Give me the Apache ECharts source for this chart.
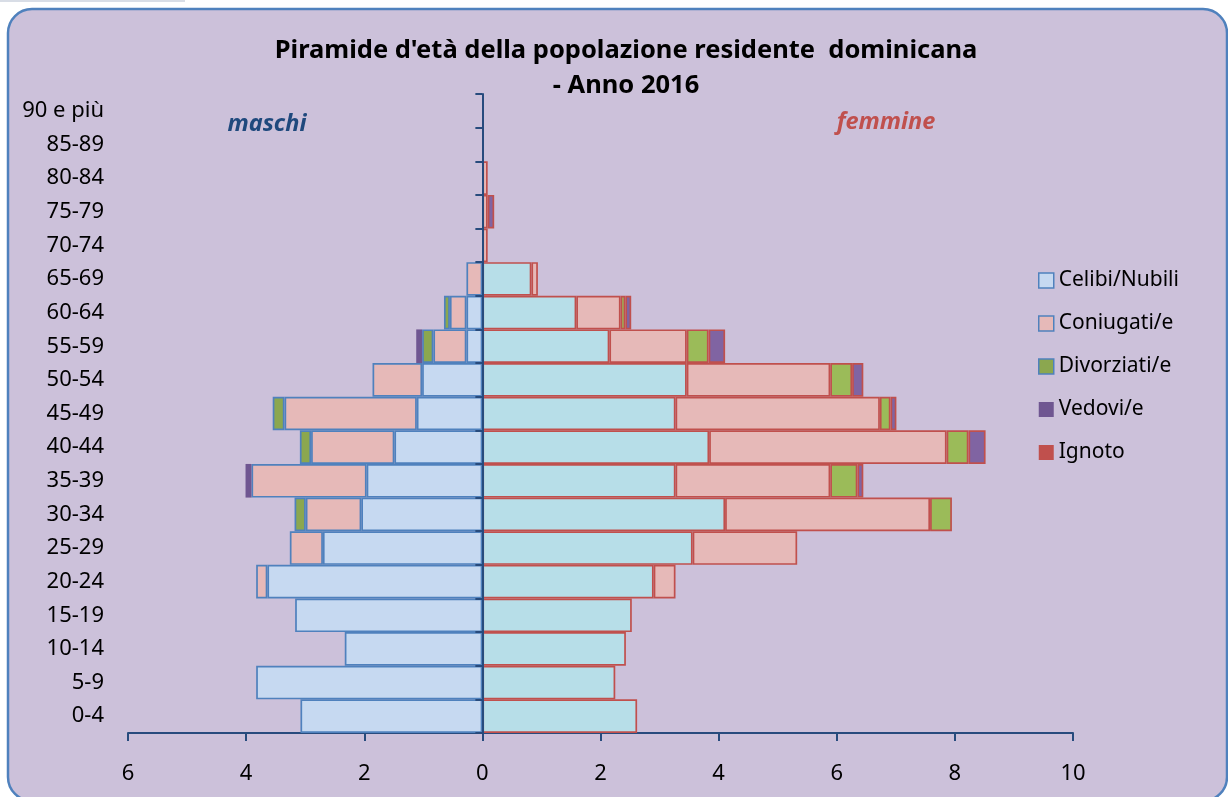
<!DOCTYPE html>
<html>
<head>
<meta charset="utf-8">
<title>Piramide d'età</title>
<script src="https://cdn.jsdelivr.net/npm/echarts@6/dist/echarts.min.js"></script>
<style>
  html, body { margin: 0; padding: 0; background: #ffffff; }
  #chart { width: 1228px; height: 797px; }
</style>
</head>
<body>
<div id="chart"></div>
<script>
// Age classes, bottom to top
const ageGroups = ['0-4', '5-9', '10-14', '15-19', '20-24', '25-29', '30-34', '35-39', '40-44',
  '45-49', '50-54', '55-59', '60-64', '65-69', '70-74', '75-79', '80-84', '85-89', '90 e più'];

// Males (percent of residents), drawn to the left
const maschiCelibi     = [3.08, 3.83, 2.33, 3.17, 3.64, 2.70, 2.05, 1.96, 1.49, 1.11, 1.02, 0.27, 0.27, 0, 0, 0, 0, 0, 0];
const maschiConiugati  = [0, 0, 0, 0, 0.19, 0.56, 0.94, 1.95, 1.41, 2.24, 0.84, 0.56, 0.28, 0.27, 0, 0, 0, 0, 0];
const maschiDivorziati = [0, 0, 0, 0, 0, 0, 0.19, 0, 0.19, 0.20, 0, 0.19, 0.10, 0, 0, 0, 0, 0, 0];
const maschiVedovi     = [0, 0, 0, 0, 0, 0, 0, 0.10, 0, 0, 0, 0.10, 0, 0, 0, 0, 0, 0, 0];
const maschiIgnoto     = [0, 0, 0, 0, 0, 0, 0, 0, 0, 0, 0, 0, 0, 0, 0, 0, 0, 0, 0];

// Females (percent of residents), drawn to the right
const femmineNubili     = [2.62, 2.25, 2.43, 2.53, 2.90, 3.56, 4.11, 3.27, 3.84, 3.27, 3.46, 2.15, 1.59, 0.83, 0, 0, 0, 0, 0];
const femmineConiugate  = [0, 0, 0, 0, 0.37, 1.77, 3.47, 2.62, 4.02, 3.46, 2.43, 1.31, 0.75, 0.11, 0.09, 0.09, 0.09, 0, 0];
const femmineDivorziate = [0, 0, 0, 0, 0, 0, 0.37, 0.46, 0.37, 0.18, 0.37, 0.37, 0.08, 0, 0, 0, 0, 0, 0];
const femmineVedove     = [0, 0, 0, 0, 0, 0, 0, 0.10, 0.29, 0.10, 0.19, 0.28, 0.10, 0, 0, 0.11, 0, 0, 0];
const femmineIgnoto     = [0, 0, 0, 0, 0, 0, 0, 0, 0, 0, 0, 0, 0, 0, 0, 0, 0, 0, 0];

const statusNames = ['Celibi/Nubili', 'Coniugati/e', 'Divorziati/e', 'Vedovi/e', 'Ignoto'];

const FONT = 'Noto Sans';
const AXIS_BLUE = '#274B7D';
const MALE_EDGE = '#4F81BD';
const FEMALE_EDGE = '#C0504D';

const maleFill   = ['#C6D9F1', '#E6B9B8', '#8BA74F', '#6F5691', '#C0504D'];
const femaleFill = ['#B7DEE8', '#E6B9B8', '#9BBB59', '#8064A2', '#C0504D'];
const maleEdge   = [MALE_EDGE, MALE_EDGE, MALE_EDGE, null, null];

function barSeries(name, values, sign, stack, fill, edge) {
  return {
    name: name,
    type: 'bar',
    stack: stack,
    yAxisIndex: 0,
    barCategoryGap: '0%',
    barGap: '-100%',
    itemStyle: {
      color: fill,
      borderColor: edge || fill,
      borderWidth: edge ? 1.7 : 0
    },
    data: values.map(v => (v ? sign * v : '-'))
  };
}

const maleData = [maschiCelibi, maschiConiugati, maschiDivorziati, maschiVedovi, maschiIgnoto];
const femaleData = [femmineNubili, femmineConiugate, femmineDivorziate, femmineVedove, femmineIgnoto];

const series = [];
statusNames.forEach((n, i) => series.push(barSeries(n, maleData[i], -1, 'maschi', maleFill[i], maleEdge[i])));
statusNames.forEach((n, i) => series.push(barSeries(n, femaleData[i], 1, 'femmine', femaleFill[i], FEMALE_EDGE)));

const chart = echarts.init(document.getElementById('chart'), null, { renderer: 'canvas' });

chart.setOption({
  animation: false,
  backgroundColor: '#ffffff',
  textStyle: { fontFamily: FONT },
  graphic: [
    {
      type: 'rect',
      z: -10,
      shape: { x: 0, y: 0, width: 185, height: 2 },
      style: { fill: '#D8DDE6' }
    },
    {
      type: 'rect',
      z: -10,
      shape: { x: 8, y: 9, width: 1219, height: 792, r: 24 },
      style: { fill: '#CCC1DA', stroke: MALE_EDGE, lineWidth: 2.5 }
    },
    {
      type: 'text',
      x: 267, y: 124,
      style: {
        text: 'maschi', fill: '#1F497D', font: 'italic bold 23.5px "' + FONT + '"',
        textAlign: 'center', textVerticalAlign: 'middle'
      }
    },
    {
      type: 'text',
      x: 886, y: 122,
      style: {
        text: 'femmine', fill: '#C0504D', font: 'italic bold 23.5px "' + FONT + '"',
        textAlign: 'center', textVerticalAlign: 'middle'
      }
    }
  ],
  title: {
    text: "Piramide d'età della popolazione residente  dominicana\n- Anno 2016",
    left: 621,
    top: 28,
    textAlign: 'center',
    textStyle: { fontFamily: FONT, fontSize: 25.5, fontWeight: 'bold', color: '#000', lineHeight: 35 }
  },
  legend: {
    orient: 'vertical',
    left: 1033,
    top: 265,
    itemWidth: 15,
    itemHeight: 15,
    itemGap: 22,
    icon: 'rect',
    textStyle: { fontFamily: FONT, fontSize: 21, color: '#000' },
    data: statusNames.map((n, i) => ({
      name: n,
      itemStyle: {
        color: maleFill[i],
        borderColor: maleEdge[i] || maleFill[i],
        borderWidth: maleEdge[i] ? 1.5 : 0
      }
    }))
  },
  grid: { left: 128, right: 155, top: 94, bottom: 64, containLabel: false },
  xAxis: {
    type: 'value',
    min: -6,
    max: 10,
    interval: 2,
    axisLine: { show: true, lineStyle: { color: AXIS_BLUE, width: 2 } },
    axisTick: { show: true, length: 8, lineStyle: { color: AXIS_BLUE, width: 2 } },
    splitLine: { show: false },
    axisLabel: {
      formatter: v => String(Math.abs(v)),
      fontFamily: FONT, fontSize: 22, color: '#000', margin: 30
    }
  },
  yAxis: [
    {
      type: 'category',
      data: ageGroups,
      position: 'left',
      axisLine: { show: false, onZero: false },
      axisTick: { show: false },
      splitLine: { show: false },
      axisLabel: { fontFamily: FONT, fontSize: 22, color: '#000', margin: 24 }
    },
    {
      type: 'category',
      data: ageGroups,
      position: 'left',
      z: 10,
      axisLine: { show: true, onZero: true, lineStyle: { color: AXIS_BLUE, width: 2 } },
      axisTick: { show: true, length: 7, lineStyle: { color: AXIS_BLUE, width: 2 } },
      splitLine: { show: false },
      axisLabel: { show: false }
    }
  ],
  series: series
});
</script>
</body>
</html>
